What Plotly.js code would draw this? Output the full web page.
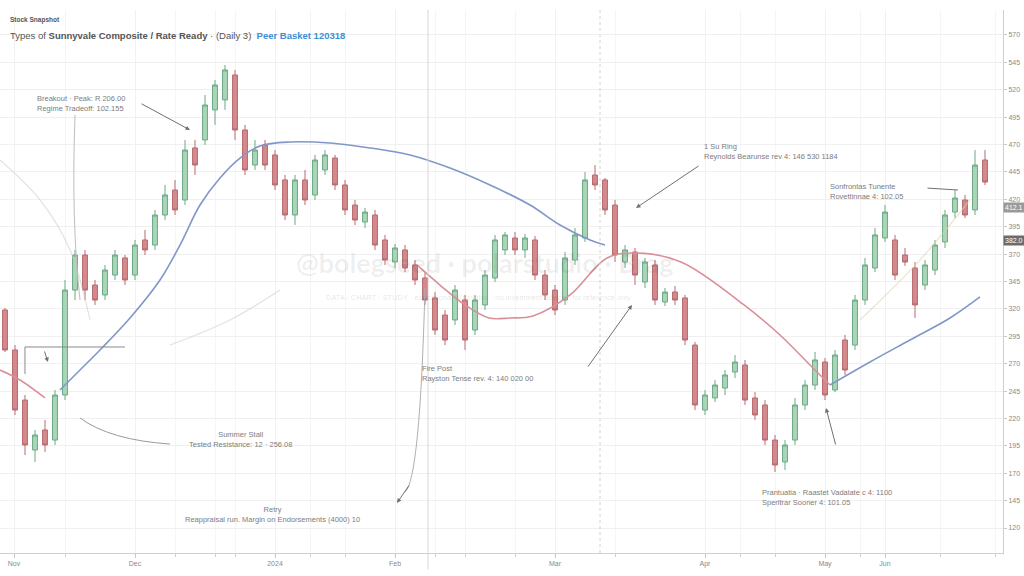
<!DOCTYPE html>
<html><head><meta charset="utf-8">
<script src="https://cdn.plot.ly/plotly-3.0.1.min.js"></script>
<style>html,body{margin:0;padding:0;background:#fff;}#chart{width:1024px;height:576px;}</style>
</head><body><div id="chart"></div>
<script>
// ---- data (session index, OHLC) ----
const sessions = [0,1,2,3,4,5,6,7,8,9,10,11,12,13,14,15,16,17,18,19,20,21,22,23,24,25,26,27,28,29,30,31,32,33,34,35,36,37,38,39,40,41,42,43,44,45,46,47,48,49,50,51,52,53,54,55,56,57,58,59,60,61,62,63,64,65,66,67,68,69,70,71,72,73,74,75,76,77,78,79,80,81,82,83,84,85,86,87,88,89,90,91,92,93,94,95,96,97,98];
const openP = [319.0,282.5,236.8,191.2,209.5,200.3,241.4,337.2,369.2,341.8,
332.7,350.9,366.5,350.9,382.9,378.3,405.7,428.5,419.4,466.9,
474.2,501.6,510.7,533.5,483.3,451.3,469.6,460.5,437.7,405.7,
437.7,424.0,446.8,457.7,433.1,414.8,399.3,405.7,382.9,362.8,
373.8,360.1,348.2,330.0,314.4,309.9,328.1,300.7,323.6,348.2,
373.8,384.7,373.8,382.9,350.9,337.2,328.1,364.6,384.7,442.2,
437.7,414.8,362.8,371.9,344.5,360.1,326.3,335.4,330.0,287.0,
227.7,238.7,247.8,262.4,268.8,238.7,232.3,200.3,180.3,200.3,
232.3,250.5,271.5,246.0,291.6,287.0,328.1,357.3,384.7,382.9,
369.2,357.3,341.8,355.5,381.1,408.4,419.4,410.3,455.9];
const highP = [320.8,287.0,241.4,209.5,218.6,246.0,346.4,373.8,373.8,346.4,
360.1,373.8,369.2,382.9,392.0,410.3,433.1,437.7,474.2,474.2,
515.2,528.9,542.6,538.1,487.9,474.2,474.2,465.0,442.2,442.2,
446.8,460.5,465.0,460.5,437.7,419.4,412.1,410.3,387.5,379.2,
378.3,364.6,353.7,335.4,319.0,341.8,332.7,332.7,355.5,387.5,
390.2,390.2,388.4,386.5,355.5,341.8,371.9,393.8,445.0,451.3,
439.5,419.4,378.3,375.6,366.5,364.6,339.1,340.9,332.7,289.8,
246.0,255.1,264.2,277.9,273.4,244.1,236.8,204.9,200.3,238.7,
255.1,280.7,275.2,282.5,296.2,332.7,366.5,393.8,414.8,387.5,
375.6,362.8,364.6,382.9,410.3,428.5,424.0,465.0,465.0];
const lowP = [280.7,223.2,186.6,180.3,189.4,195.8,236.8,328.1,328.1,323.6,
328.1,346.4,341.8,346.4,369.2,373.8,401.1,405.7,414.8,442.2,
469.6,487.9,501.6,474.2,442.2,446.8,446.8,428.5,401.1,396.6,
414.8,419.4,442.2,428.5,405.7,396.6,393.8,373.8,360.1,357.3,
353.7,341.8,323.6,296.2,287.0,305.3,282.5,296.2,319.0,344.5,
369.2,369.2,366.5,346.4,328.1,314.4,323.6,360.1,381.1,428.5,
405.7,362.8,357.3,341.8,339.1,323.6,322.6,323.6,287.0,227.7,
223.2,235.0,241.4,256.9,232.3,218.6,195.8,171.1,172.9,195.8,
227.7,246.0,236.8,244.1,259.7,282.5,323.6,353.7,381.1,346.4,
359.2,311.7,337.2,350.9,375.6,403.0,403.0,405.7,433.1];
const closeP = [282.5,227.7,195.8,204.9,195.8,241.4,337.2,369.2,337.2,328.1,
355.5,369.2,346.4,378.3,373.8,405.7,424.0,410.3,465.0,451.3,
506.1,524.4,538.1,483.3,446.8,465.0,451.3,433.1,405.7,437.7,
419.4,455.9,460.5,433.1,410.3,401.1,408.4,378.3,364.6,375.6,
357.3,346.4,328.1,300.7,291.6,337.2,291.6,328.1,350.9,382.9,
387.5,373.8,384.7,350.9,332.7,319.0,366.5,387.5,437.7,433.1,
410.3,369.2,373.8,350.9,362.8,328.1,335.4,328.1,291.6,232.3,
241.4,250.5,259.7,271.5,236.8,223.2,200.3,177.5,195.8,232.3,
250.5,273.4,241.4,277.9,264.2,328.1,360.1,387.5,408.4,350.9,
362.8,323.6,360.1,378.3,405.7,421.2,405.7,451.3,435.8];

// slow average (blue) – two visible stretches
const blueIdx = [5.5,7.5,9.5,12.5,15.5,17.5,19.5,21.5,23.5,25.5,28.5,32.5,36.5,40.5,44.5,48.5,52.5,55.5,58.5,60,61,82.5,86.5,90.5,94.5,97.5];
const blueVal = [246.0,264.2,282.5,311.7,346.4,378.3,414.8,439.5,457.7,468.7,472.3,471.4,466.9,460.5,448.6,433.1,414.8,396.6,382.9,378.3,null,250.5,271.5,291.6,311.7,330.9];
// fast average (red)
const redIdx = [-0.5,1.5,4,5,41.3,43.5,46,48.4,50.5,52.8,56.5,60.2,63.2,67.6,73.9,77.5,80.5,82.5];
const redVal = [264.2,255.1,238.7,null,359.2,341.8,323.6,311.7,311.7,313.5,332.7,366.5,371.0,362.8,323.6,296.2,268.8,250.5];
// faint guide lines
const faintAIdx = [-0.5,3.5,6.5,8.5];
const faintAVal = [455.9,419.4,373.8,309.9];
const faintBIdx = [16.5,22.5,27.5];
const faintBVal = [287.0,309.9,337.2];
const faintCIdx = [85.5,91.5,96.5];
const faintCVal = [309.9,364.6,419.4];

// axis labels
const xTickIdx = [0.9,13,27,39,55,70,82,88];
const xTickText = ['Nov','Dec','2024','Feb','Mar','Apr','May','Jun'];
const xMinorIdx = [6,17,21,23,30.5,34,43,46,51,61,73.5,77,85.5,93.5,99];
const tagBlue = 412.1, tagRed = 382.0;

// ---- helpers for decorative positions (pixel -> paper) ----
const PW = 1003, PB = 553, PH = 543;
const xp = px => px / PW;
const yp = py => (PB - py) / PH;
const P = (px, py) => xp(px).toFixed(4) + ',' + yp(py).toFixed(4);

const traces = [
  {type:'scatter', mode:'lines', x:faintAIdx, y:faintAVal, line:{color:'rgba(200,200,190,0.5)', width:1.2, shape:'spline'}, hoverinfo:'skip'},
  {type:'scatter', mode:'lines', x:faintBIdx, y:faintBVal, line:{color:'rgba(200,200,190,0.5)', width:1.2, shape:'spline'}, hoverinfo:'skip'},
  {type:'scatter', mode:'lines', x:faintCIdx, y:faintCVal, line:{color:'rgba(220,210,170,0.6)', width:1.2, shape:'spline'}, hoverinfo:'skip'},
  {type:'scatter', mode:'lines', x:blueIdx, y:blueVal, connectgaps:false, line:{color:'#8197c9', width:1.6, shape:'spline'}, hoverinfo:'skip'},
  {type:'scatter', mode:'lines', x:redIdx, y:redVal, connectgaps:false, line:{color:'#d99097', width:1.6, shape:'spline'}, hoverinfo:'skip'},
  {type:'candlestick', x:sessions, open:openP, high:highP, low:lowP, close:closeP, whiskerwidth:0,
   increasing:{line:{color:'#6ea886', width:1}, fillcolor:'#a8d6b6'},
   decreasing:{line:{color:'#b76a6e', width:1}, fillcolor:'#d4898d'}}
];

const grey = '#8a8a8a';
const noteFont = {family:'Liberation Sans, Arial, sans-serif', size:7.5, color:'#7d7d7d'};
const ann = [];
function note(text, px, py, anchor, align){
  ann.push({xref:'paper', yref:'paper', x:xp(px), y:yp(py), xanchor:anchor, yanchor:'middle', align:align||anchor, text:text, showarrow:false, font:noteFont});
}
function arrow(hx, hy, tx, ty, head){
  ann.push({xref:'paper', yref:'paper', x:xp(hx), y:yp(hy), ax:tx-hx, ay:ty-hy, text:'', showarrow:true,
            arrowhead:head===undefined?2:head, arrowsize:0.9, arrowwidth:1, arrowcolor:'#707070'});
}
// title block
ann.push({xref:'paper', yref:'paper', x:xp(8), y:yp(20), xanchor:'left', yanchor:'middle', showarrow:false,
  text:'<b>Stock Snapshot</b>', font:{family:'Liberation Sans, Arial, sans-serif', size:6.5, color:'#555'}});
ann.push({xref:'paper', yref:'paper', x:xp(8), y:yp(35), xanchor:'left', yanchor:'middle', showarrow:false,
  text:'Types of <b>Sunnyvale Composite / Rate Ready</b> · (Daily 3)  <span style="color:#3b8fd8"><b>Peer Basket 120318</b></span>',
  font:{family:'Liberation Sans, Arial, sans-serif', size:9.5, color:'#555'}});
// watermark
ann.push({xref:'paper', yref:'paper', x:xp(485), y:yp(262), xanchor:'center', yanchor:'middle', showarrow:false,
  text:'<b>@bolegseed · polarstudio · Brag</b>', font:{family:'Lato, sans-serif', size:27, color:'rgba(0,0,0,0.07)'}});
ann.push({xref:'paper', yref:'paper', x:xp(478), y:yp(297), xanchor:'center', yanchor:'middle', showarrow:false,
  text:'DATA / CHART / STUDY · educational illustration · no investment advice · for reference only',
  font:{family:'Liberation Sans, Arial, sans-serif', size:7.5, color:'rgba(0,0,0,0.13)'}});
// notes
note('Breakout · Peak: R 206.00<br>Regime Tradeoff: 102.155', 35, 103, 'left');
note('Summer Stall<br>Tested Resistance: 12 · 256.08', 240, 439, 'center');
note('Retry<br>Reappraisal run. Margin on Endorsements (4000) 10', 272, 514, 'center');
note('Fire Post<br>Rayston Tense rev. 4: 140 020 00', 420, 373, 'left');
note('1 Su Ring<br>Reynolds Bearunse rev 4: 146 530 1184', 702, 151, 'left');
note('Sonfrontas Tunente<br>Rovettinnae 4: 102.05', 828, 191, 'left');
note('Prantuatia · Raastet Vadalate c 4: 1100<br>Sperltrar Sooner 4: 101.05', 760, 497, 'left');
arrow(190,130,140,103);
arrow(632,305,587,368);
arrow(636,208,700,165);
arrow(958,190,926,188,0);
arrow(826,408,836,446);
arrow(397,503,410,484);
arrow(48,362,44,350);
// right-axis value tags
[[tagBlue,'#9a9a9a'],[tagRed,'#6c6c6c']].forEach(([v,c])=>{
  ann.push({xref:'paper', yref:'y', x:1, y:v, xanchor:'left', yanchor:'middle', showarrow:false, text:v.toFixed(1),
    bgcolor:c, borderpad:1, font:{family:'Liberation Sans, Arial, sans-serif', size:7, color:'#fff'}});
});

const shapes = [
  {type:'line', xref:'paper', yref:'paper', x0:xp(428), x1:xp(428), y0:-0.03, y1:1, line:{color:'#d6d6d6', width:1}},
  {type:'line', xref:'paper', yref:'paper', x0:xp(600), x1:xp(600), y0:0, y1:1, line:{color:'#d0d0d0', width:1, dash:'dot'}},
  {type:'path', xref:'paper', yref:'paper', path:'M'+P(75,115)+' Q'+P(71,220)+' '+P(80,300), line:{color:'#bdbdbd', width:1}},
  {type:'path', xref:'paper', yref:'paper', path:'M'+P(80,418)+' Q'+P(110,440)+' '+P(170,444), line:{color:'#9a9a9a', width:1}},
  {type:'path', xref:'paper', yref:'paper', path:'M'+P(425,288)+' Q'+P(420,480)+' '+P(405,492), line:{color:'#b0b0b0', width:1}},
  {type:'path', xref:'paper', yref:'paper', path:'M'+P(25,374)+' L'+P(25,347)+' L'+P(125,347), line:{color:'#8a8a8a', width:1}}
];

const layout = {
  width:1024, height:576, margin:{l:0, r:21, t:10, b:23},
  paper_bgcolor:'#fff', plot_bgcolor:'#fff', showlegend:false,
  font:{family:'Liberation Sans, Arial, sans-serif', size:7, color:grey},
  xaxis:{range:[-0.5,99.8], rangeslider:{visible:false}, tickmode:'array', tickvals:xTickIdx, ticktext:xTickText,
    ticks:'outside', ticklen:4, tickcolor:'#c8c8c8', showline:true, linecolor:'#cfcfcf', showgrid:true, gridcolor:'#f1f1f1',
    tickfont:{size:7, color:'#8a8a8a'}, zeroline:false,
    minor:{tickmode:'array', tickvals:xMinorIdx, ticks:'outside', ticklen:3, tickcolor:'#d0d0d0', showgrid:true, gridcolor:'#f5f5f5'}},
  yaxis:{side:'right', range:[97.2,592.8], tick0:120, dtick:25, ticks:'outside', ticklen:3, tickcolor:'#c8c8c8',
    showline:true, linecolor:'#cfcfcf', showgrid:true, gridcolor:'#f0f0f0', zeroline:false,
    tickfont:{size:7, color:'#8a8a8a'}},
  annotations:ann, shapes:shapes
};
Plotly.newPlot('chart', traces, layout, {displayModeBar:false, staticPlot:true});
</script></body></html>
